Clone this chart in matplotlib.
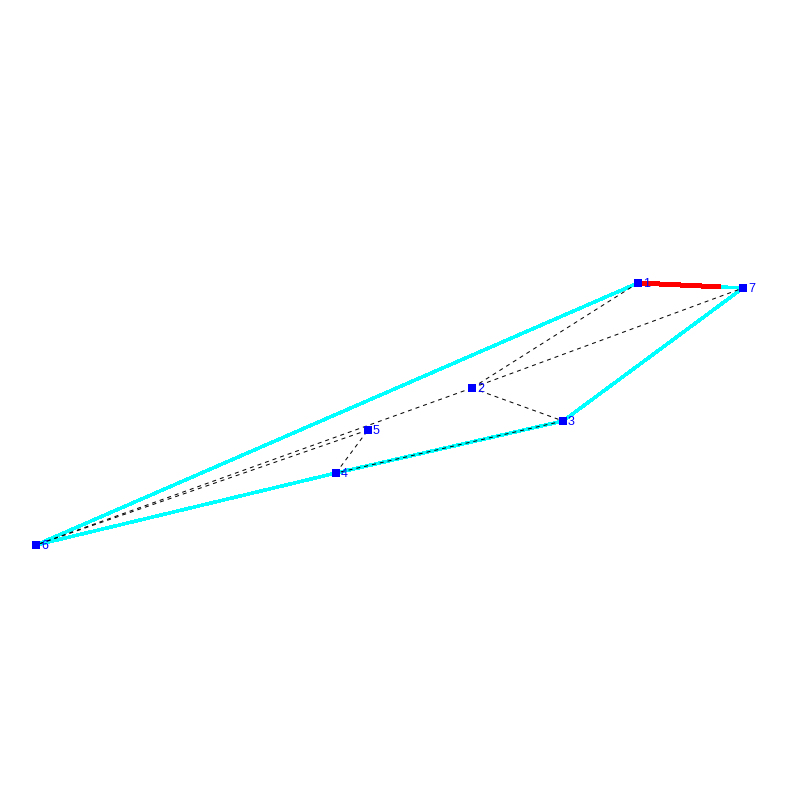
import matplotlib
matplotlib.use("Agg")
import matplotlib.pyplot as plt

# Node positions (pixels, y down)
NODE_IDS = [1, 2, 3, 4, 5, 6, 7]
NODE_X = [638.0, 472.0, 563.0, 336.0, 368.0, 36.0, 743.0]
NODE_Y = [283.0, 388.0, 421.0, 473.0, 430.0, 545.0, 288.0]

# Edges by node id
HULL_EDGES = [(1, 6), (6, 4), (4, 3), (3, 7), (7, 1)]
DASHED_EDGES = [(1, 2), (2, 7), (2, 3), (3, 4), (4, 5), (5, 6), (2, 6)]
RED_EDGES = [(1, 7)]

PX = 0.72  # one pixel in points at dpi 100


def edge_xy(edge):
    a, b = NODE_IDS.index(edge[0]), NODE_IDS.index(edge[1])
    return [NODE_X[a], NODE_X[b]], [NODE_Y[a], NODE_Y[b]]


fig = plt.figure(figsize=(8, 8), dpi=100)
ax = fig.add_axes([0, 0, 1, 1])
ax.set_xlim(0, 800)
ax.set_ylim(800, 0)
ax.axis("off")

for e in HULL_EDGES:
    xs, ys = edge_xy(e)
    ax.plot(xs, ys, color="#00ffff", lw=2.5 * PX, solid_capstyle="butt",
            antialiased=False, zorder=1)

for e in DASHED_EDGES:
    xs, ys = edge_xy(e)
    ax.plot(xs, ys, color="black", lw=PX, linestyle=(0, (4, 4)),
            dash_capstyle="butt", zorder=2)

# the red edge is one long dash that stops short of node 7
for e in RED_EDGES:
    xs, ys = edge_xy(e)
    ax.plot(xs, ys, color="#ff0000", lw=3.5 * PX, linestyle=(0, (23.5, 40)),
            dash_capstyle="butt", antialiased=False, zorder=3)

ax.plot(NODE_X, NODE_Y, linestyle="none", marker="s", color="#0000ff",
        markersize=7.5 * PX, markeredgewidth=0, zorder=4)

for i, x, y in zip(NODE_IDS, NODE_X, NODE_Y):
    ax.annotate(str(i), (x, y), xytext=(5 * PX, -1 * PX), textcoords="offset points",
                color="#0000ff", fontsize=9, family="Liberation Sans",
                ha="left", va="center", zorder=5)

fig.savefig("out.png", dpi=100, facecolor="white")
plt.close(fig)
